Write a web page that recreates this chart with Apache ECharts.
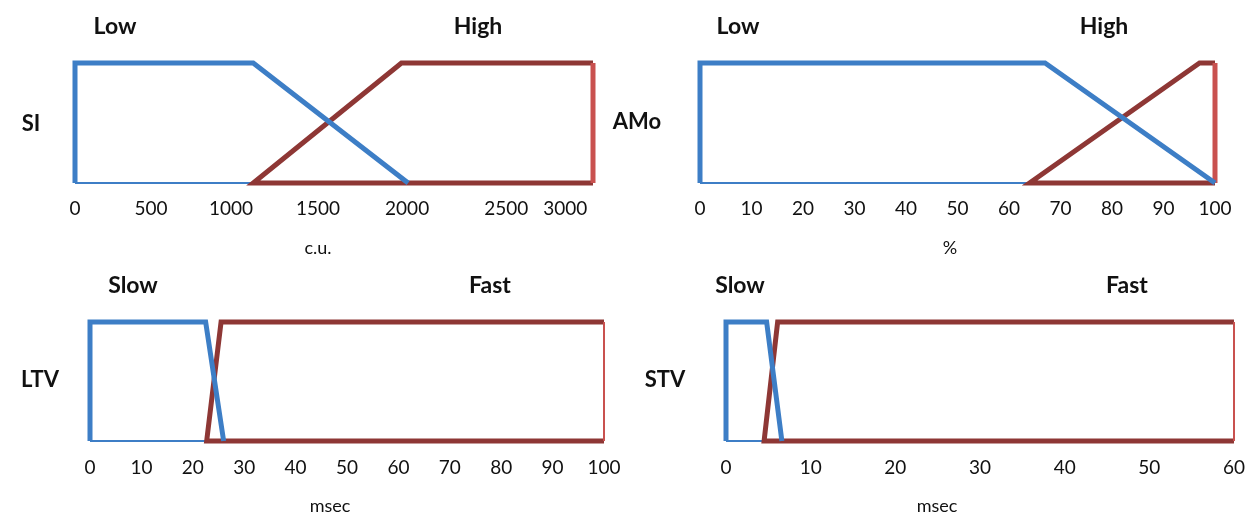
<!DOCTYPE html>
<html><head><meta charset="utf-8">
<script src="https://cdn.jsdelivr.net/npm/echarts@6/dist/echarts.min.js"></script>
<style>html,body{margin:0;padding:0;background:#fff}#c{width:1248px;height:514px}</style>
</head><body><div id="c"></div>
<script>
// ---- SI panel (c.u.) ----
const siTickLabels = ['0','500','1000','1500','2000','2500','3000'];
const siTickAt = [0, 456, 937, 1459, 1994, 2589, 2943];
const siLow  = [[0,1],[1070,1],[2000,0]];
const siHigh = [[1070,0],[1960,1],[3110,1]];
// ---- AMo panel (%) ----
const amoLow  = [[0,1],[67,1],[100,0]];
const amoHigh = [[64,0],[97,1],[100,1]];
// ---- LTV panel (msec) ----
const ltvLow  = [[0,1],[22.5,1],[26,0]];
const ltvHigh = [[22.7,0],[25.5,1],[100,1]];
// ---- STV panel (msec) ----
const stvLow  = [[0,1],[4.8,1],[6.6,0]];
const stvHigh = [[4.5,0],[6.1,1],[60,1]];

const panelNames = ['SI','AMo','LTV','STV'];
const termLow = ['Low','Low','Slow','Slow'];
const termHigh = ['High','High','Fast','Fast'];
const units = ['c.u.','%','msec','msec'];

const BLUE = '#3D7EC6', DARK = '#8E3735', LIGHT = '#C9514F';
const FONT = 'Lato, "Open Sans", sans-serif';

const grids = [
  {left:75, width:518, top:63, height:120},
  {left:700, width:515, top:63, height:120},
  {left:90, width:514, top:322, height:119},
  {left:726, width:515, top:322, height:119}
];
const axes = [
  {min:0, max:3110, custom:true},
  {min:0, max:100, interval:10},
  {min:0, max:100, interval:10},
  {min:0, max:60, interval:10}
];
const lows = [siLow, amoLow, ltvLow, stvLow];
const highs = [siHigh, amoHigh, ltvHigh, stvHigh];
const edgeWidth = [5, 5, 2, 2];

const xAxis = [], yAxis = [], series = [];
axes.forEach((a, i) => {
  const lab = {fontFamily: FONT, fontSize: 19, color: '#111', margin: i < 2 ? 16 : 17};
  const ax = {type:'value', gridIndex:i, min:a.min, max:a.max,
    axisLine:{show:false}, axisTick:{show:false}, splitLine:{show:false}, axisLabel:lab};
  if (a.custom) {
    lab.customValues = siTickAt;
    lab.formatter = v => siTickLabels[siTickAt.indexOf(v)];
  } else {
    ax.interval = a.interval;
  }
  xAxis.push(ax);
  yAxis.push({type:'value', gridIndex:i, min:0, max:1, show:false});

  const low = lows[i], high = highs[i];
  const x0 = low[0][0], lowEnd = low[low.length-1][0];
  const hMax = high[high.length-1][0];
  const base = {type:'line', xAxisIndex:i, yAxisIndex:i, symbol:'none', clip:false,
    animation:false, silent:true};
  series.push(Object.assign({}, base, {data:[[x0,0],[lowEnd,0]],
    lineStyle:{color:BLUE, width:2}}));
  series.push(Object.assign({}, base, {data:[[hMax,0]].concat(high),
    lineStyle:{color:DARK, width:5, join:'miter'}}));
  series.push(Object.assign({}, base, {data:[[hMax,1],[hMax,0]],
    lineStyle:{color:LIGHT, width:edgeWidth[i]}}));
  series.push(Object.assign({}, base, {data:[[x0,0]].concat(low),
    lineStyle:{color:BLUE, width:5, join:'miter'}}));
});

const textPos = [
  {low:[115,27], high:[478,27], name:[31,124], unit:[318,248]},
  {low:[738,27], high:[1104,27], name:[637,122], unit:[950,248]},
  {low:[133,286], high:[490,286], name:[40,380], unit:[330,506]},
  {low:[740,286], high:[1127,286], name:[665,380], unit:[937,506]}
];
const graphic = [];
function txt(t, p, bold, size) {
  graphic.push({type:'text', x:p[0], y:p[1], silent:true,
    style:{text:t, fill:'#111', font:(bold?'bold ':'') + size + 'px ' + FONT,
      align:'center', verticalAlign:'middle'}});
}
textPos.forEach((p, i) => {
  txt(termLow[i], p.low, true, 23);
  txt(termHigh[i], p.high, true, 23);
  txt(panelNames[i], p.name, true, 22);
  txt(units[i], p.unit, false, 18);
});

const chart = echarts.init(document.getElementById('c'), null, {renderer:'canvas'});
chart.setOption({animation:false, backgroundColor:'#fff', grid:grids, xAxis, yAxis, series, graphic});
</script></body></html>
